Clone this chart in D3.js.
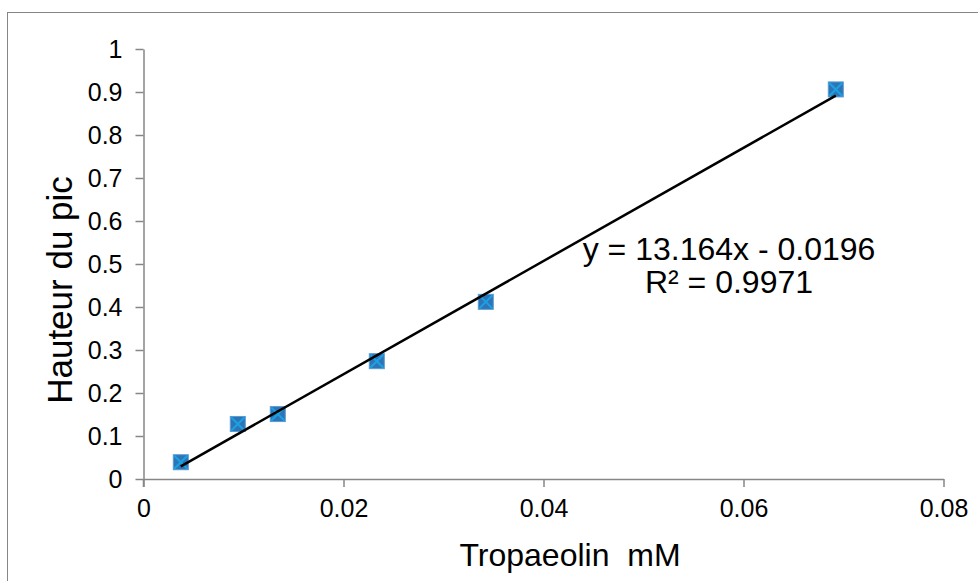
<!DOCTYPE html>
<html><head><meta charset="utf-8">
<script src="https://cdn.jsdelivr.net/npm/d3@7"></script>
<style>body{margin:0;background:#fff}svg{display:block;font-family:"Liberation Sans",Arial,sans-serif}</style>
</head><body>
<svg id="c" width="978" height="581"></svg>
<script>
const xValues = [0.00373, 0.00943, 0.01343, 0.02333, 0.03423, 0.06923];
const yValues = [0.039, 0.128, 0.151, 0.274, 0.412, 0.906];
const xTicks = [0, 0.02, 0.04, 0.06, 0.08];
const yTicks = [0, 0.1, 0.2, 0.3, 0.4, 0.5, 0.6, 0.7, 0.8, 0.9, 1];
const slope = 13.164, intercept = -0.0196;
const eqLines = ["y = 13.164x - 0.0196", "R² = 0.9971"];
const xTitle = "Tropaeolin  mM", yTitle = "Hauteur du pic";

const svg = d3.select("#c");
svg.append("rect").attr("x",7.5).attr("y",12.5).attr("width",990).attr("height",600)
  .attr("fill","#fff").attr("stroke","#868686").attr("stroke-width",1);

const x = d3.scaleLinear().domain([0,0.08]).range([143.5,943.5]);
const y = d3.scaleLinear().domain([0,1]).range([479,49]);
const axisColor = "#868686";

const fmt = d => d===0 ? "0" : String(+d.toFixed(2));
const gx = svg.append("g").attr("transform","translate(0,479)")
  .call(d3.axisBottom(x).tickValues(xTicks).tickFormat(fmt).tickSizeInner(8).tickSizeOuter(0).tickPadding(12));
const gy = svg.append("g").attr("transform","translate(143.5,0)")
  .call(d3.axisLeft(y).tickValues(yTicks).tickFormat(d=>String(+d.toFixed(1))).tickSizeInner(8).tickSizeOuter(0).tickPadding(13));
[gx,gy].forEach(g=>{
  g.attr("font-size",25).attr("font-family","Liberation Sans, Arial, sans-serif");
  g.selectAll("path,line").attr("stroke",axisColor).attr("stroke-width",1.5);
  g.selectAll("text").attr("font-size",25).attr("fill","#000");
});
svg.append("line").attr("x1",143.5).attr("x2",143.5).attr("y1",479).attr("y2",487)
  .attr("stroke",axisColor).attr("stroke-width",1.5);

// markers
const s = 15;
const pts = svg.append("g").selectAll("g").data(xValues.map((v,i)=>[v,yValues[i]])).join("g")
  .attr("transform",d=>`translate(${x(d[0])},${y(d[1])})`);
pts.append("rect").attr("x",-s/2).attr("y",-s/2).attr("width",s).attr("height",s)
  .attr("fill","#2E75B6").attr("stroke","#5B9BD5").attr("stroke-width",1);
pts.append("path").attr("d",`M${-s/2+1},${-s/2+1}L${s/2-1},${s/2-1}M${-s/2+1},${s/2-1}L${s/2-1},${-s/2+1}`)
  .attr("stroke","#1BA1E2").attr("stroke-width",2);

// trendline
const x0 = d3.min(xValues), x1 = d3.max(xValues);
svg.append("line").attr("x1",x(x0)).attr("y1",y(slope*x0+intercept))
  .attr("x2",x(x1)).attr("y2",y(slope*x1+intercept))
  .attr("stroke","#000").attr("stroke-width",2.5);

// equation
svg.append("g").selectAll("text").data(eqLines).join("text")
  .attr("x",729).attr("y",(d,i)=>260+i*33).attr("text-anchor","middle")
  .attr("font-size",32).attr("fill","#000").text(d=>d);

svg.append("text").attr("x",570).attr("y",566).attr("text-anchor","middle")
  .attr("font-size",32).attr("fill","#000").style("white-space","pre").text(xTitle);
svg.append("text").attr("transform","translate(72,290) rotate(-90)").attr("text-anchor","middle")
  .attr("font-size",35).attr("fill","#000").text(yTitle);
</script>
</body></html>
